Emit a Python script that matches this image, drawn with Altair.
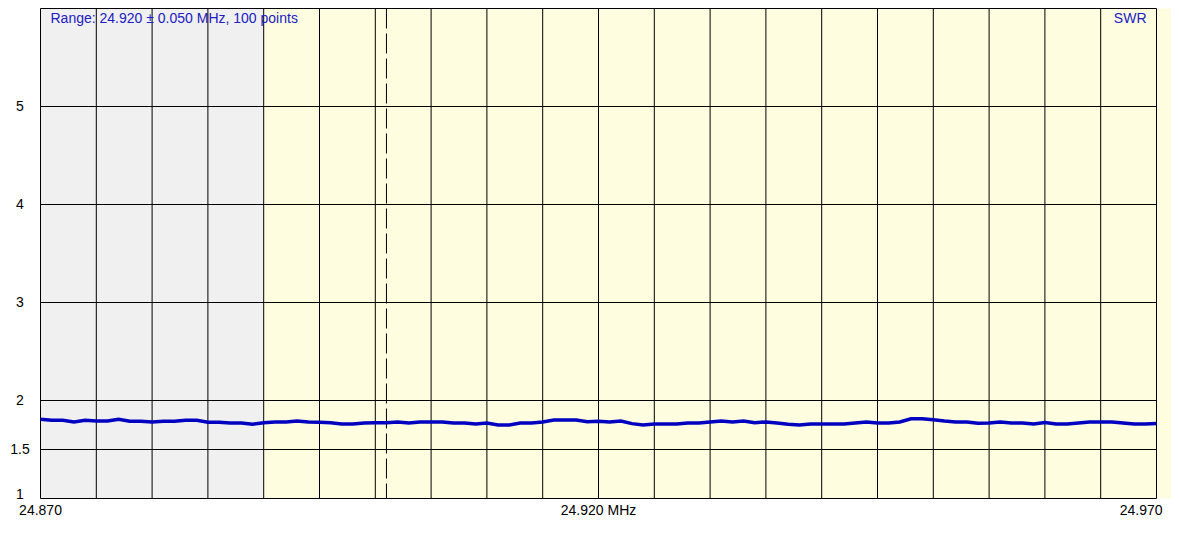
import altair as alt
import pandas as pd

# ---- data ----
freq_start = 24.870
n_points = 101
freqs = [round(freq_start + 0.001 * i, 3) for i in range(n_points)]
swr = [
    1.808, 1.798, 1.798, 1.781, 1.798, 1.791, 1.791, 1.808, 1.788, 1.788,
    1.781, 1.788, 1.788, 1.798, 1.798, 1.778, 1.778, 1.771, 1.771, 1.758,
    1.774, 1.781, 1.781, 1.791, 1.781, 1.778, 1.774, 1.761, 1.761, 1.771,
    1.774, 1.774, 1.781, 1.771, 1.781, 1.781, 1.781, 1.771, 1.771, 1.761,
    1.771, 1.751, 1.751, 1.771, 1.771, 1.781, 1.801, 1.801, 1.801, 1.784,
    1.788, 1.781, 1.791, 1.764, 1.751, 1.761, 1.761, 1.761, 1.771, 1.771,
    1.781, 1.791, 1.781, 1.791, 1.774, 1.781, 1.771, 1.758, 1.751, 1.761,
    1.761, 1.761, 1.761, 1.771, 1.781, 1.771, 1.771, 1.781, 1.814, 1.814,
    1.804, 1.791, 1.781, 1.781, 1.768, 1.771, 1.781, 1.771, 1.771, 1.761,
    1.776, 1.761, 1.761, 1.771, 1.781, 1.781, 1.781, 1.771, 1.761, 1.761,
    1.766,
]

x_grid = [24.870, 24.875, 24.880, 24.885, 24.890, 24.895, 24.900, 24.905,
          24.910, 24.915, 24.920, 24.925, 24.930, 24.935, 24.940, 24.945,
          24.950, 24.955, 24.960, 24.965, 24.970]
y_grid = [1, 1.5, 2, 3, 4, 5, 6]
y_labels = [1, 1.5, 2, 3, 4, 5]
band_start = [24.870, 24.890]
band_end = [24.890, 24.990]
band_color = ["#F0F0F0", "#FFFDE0"]
marker_freq = [24.901]
x_label_vals = [24.870, 24.920]
x_label_text = ["24.870", "24.920 MHz"]
x_end_label = "24.970"
title_text = "Range: 24.920 \u00b1 0.050 MHz, 100 points"
series_name = "SWR"

X_MIN, X_MAX = 24.870, 24.970
Y_MIN, Y_MAX = 1, 6

FONT = "Liberation Sans"
BLUE_TXT = "#2020C0"

W, H = 1116, 490

xs = alt.Scale(domain=[X_MIN, X_MAX], nice=False, zero=False)
ys = alt.Scale(domain=[Y_MIN, Y_MAX], nice=False, zero=False)

y_axis = alt.Axis(
    values=y_labels, labelExpr="'' + datum.value", title=None, domain=False, ticks=False,
    tickSize=0, grid=False, labelAlign="center", labelPadding=21,
    labelFlush=True, labelFlushOffset=3, labelFont=FONT, labelFontSize=14,
    labelColor="black",
)

df_line = pd.DataFrame({"f": freqs, "swr": swr})
df_band = pd.DataFrame({"s": band_start, "e": band_end, "c": band_color,
                        "lo": [Y_MIN] * 2, "hi": [Y_MAX] * 2})
df_vg = pd.DataFrame({"f": x_grid, "lo": [Y_MIN] * len(x_grid), "hi": [Y_MAX] * len(x_grid)})
df_hg = pd.DataFrame({"v": y_grid, "a": [X_MIN] * len(y_grid), "b": [X_MAX] * len(y_grid)})
df_mk = pd.DataFrame({"f": marker_freq, "lo": [Y_MIN], "hi": [Y_MAX]})
df_xl = pd.DataFrame({"f": x_label_vals, "t": x_label_text, "y": [Y_MIN] * 2})
df_xe = pd.DataFrame({"f": [X_MAX], "t": [x_end_label], "y": [Y_MIN]})
df_tt = pd.DataFrame({"f": [X_MIN], "t": [title_text], "y": [Y_MAX]})
df_sn = pd.DataFrame({"f": [X_MAX], "t": [series_name], "y": [Y_MAX]})


def X(field):
    return alt.X(field, type="quantitative", scale=xs, axis=None)


def Y(field):
    return alt.Y(field, type="quantitative", scale=ys, axis=y_axis)


bands = alt.Chart(df_band).mark_rect(clip=False).encode(
    x=X("s"), x2="e", y=Y("lo"), y2="hi",
    color=alt.Color("c:N", scale=None),
)

vgrid = alt.Chart(df_vg).mark_rule(color="black", strokeWidth=1).encode(
    x=X("f"), y=Y("lo"), y2="hi",
)

hgrid = alt.Chart(df_hg).mark_rule(color="black", strokeWidth=1).encode(
    y=Y("v"), x=X("a"), x2="b",
)

marker = alt.Chart(df_mk).mark_rule(color="black", strokeWidth=1, strokeDash=[20, 5]).encode(
    x=X("f"), y=Y("hi"), y2="lo",
)

line = alt.Chart(df_line).mark_line(color="#0000C0", strokeWidth=3.5).encode(
    x=X("f"), y=Y("swr"),
)

xlabels = alt.Chart(df_xl).mark_text(
    font=FONT, fontSize=14, color="black", align="center", baseline="top", dy=5
).encode(x=X("f"), y=Y("y"), text="t:N")

xend = alt.Chart(df_xe).mark_text(
    font=FONT, fontSize=14, color="black", align="right", baseline="top", dy=5, dx=6
).encode(x=X("f"), y=Y("y"), text="t:N")

title = alt.Chart(df_tt).mark_text(
    font=FONT, fontSize=14, color=BLUE_TXT, align="left", baseline="alphabetic", dx=10, dy=14
).encode(x=X("f"), y=Y("y"), text="t:N")

swr_lbl = alt.Chart(df_sn).mark_text(
    font=FONT, fontSize=14, color=BLUE_TXT, align="right", baseline="alphabetic", dx=-10, dy=14
).encode(x=X("f"), y=Y("y"), text="t:N")

chart = alt.layer(
    bands, vgrid, hgrid, marker, line, xlabels, xend, title, swr_lbl
).properties(
    width=W,
    height=H,
    autosize=alt.AutoSizeParams(type="none"),
    padding={"left": 32.5, "top": 0.5, "right": 14.5, "bottom": 30},
    background="white",
).configure_view(strokeWidth=0)

chart.save("out.html", embed_options={"renderer": "svg", "actions": False})
